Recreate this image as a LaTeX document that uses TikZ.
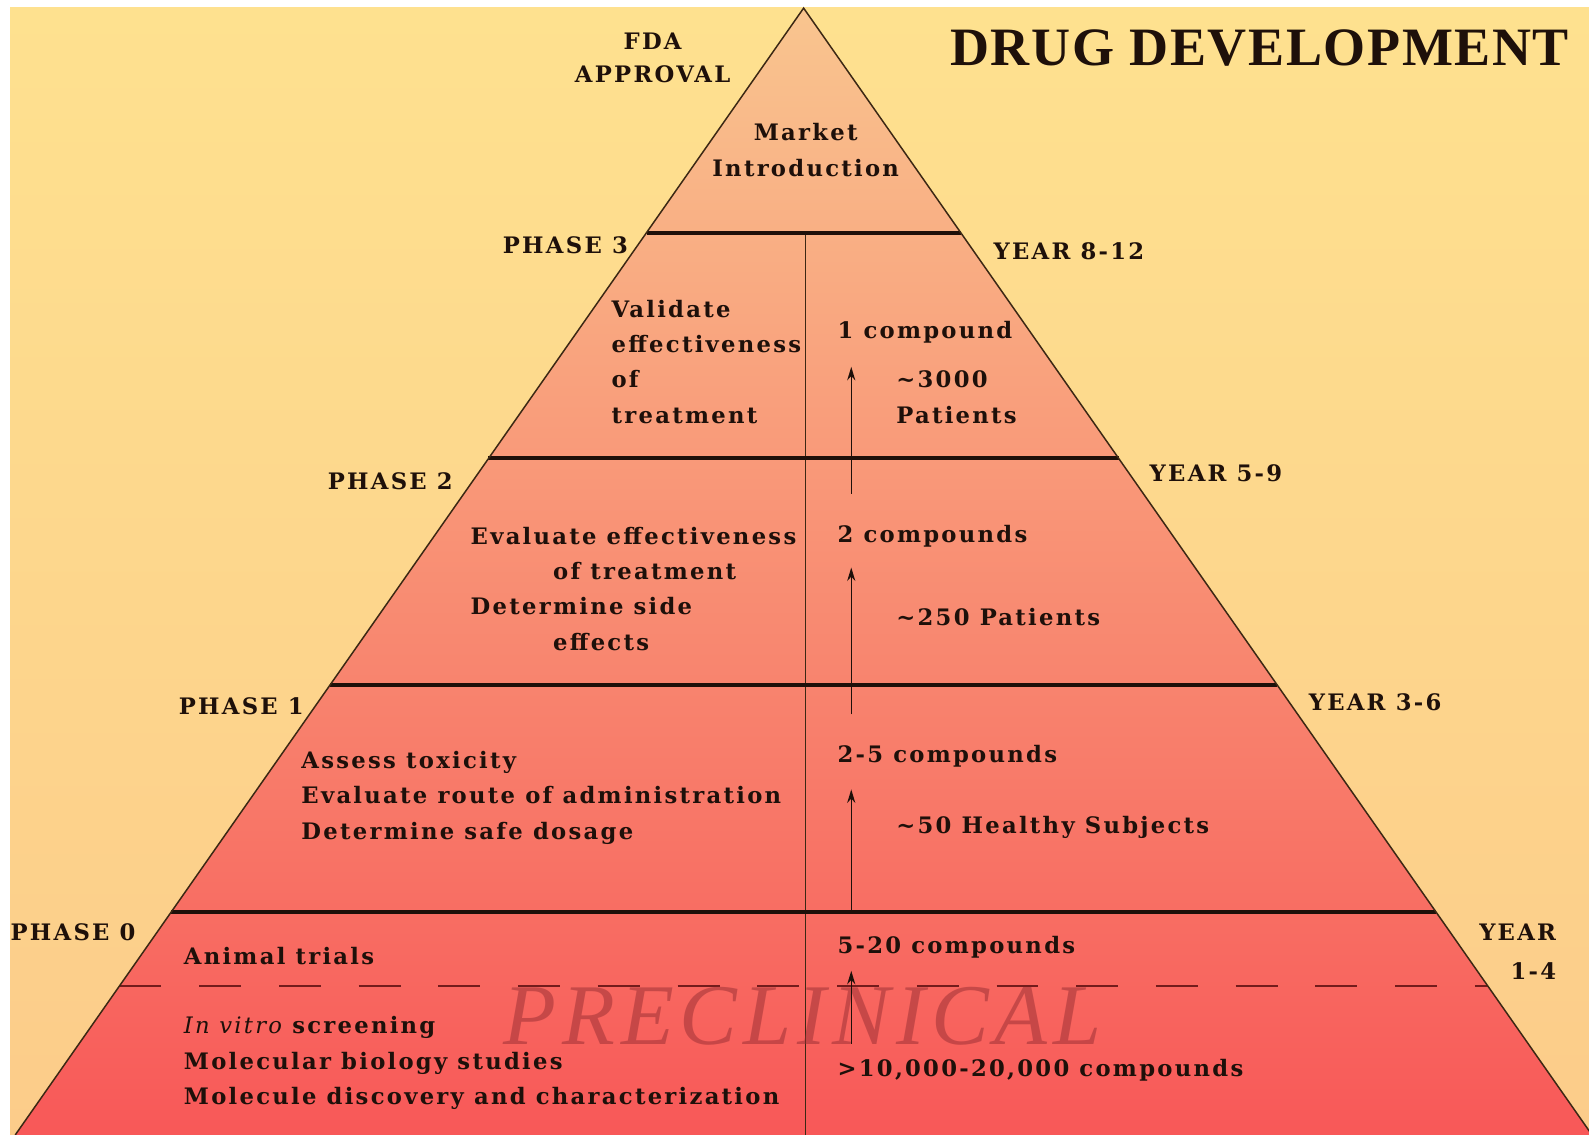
\documentclass[tikz,border=0pt]{standalone}
\usepackage{fontspec}
\setmainfont{DejaVu Serif}[LetterSpace=10]
\newfontfamily\titlefont{Liberation Serif}[LetterSpace=3]
\newfontfamily\ghostfont{Liberation Serif}[LetterSpace=7]
\usetikzlibrary{arrows.meta}

\definecolor{bgtop}{RGB}{254,225,143}
\definecolor{bgbot}{RGB}{252,204,138}
\definecolor{pyrtop}{RGB}{249,197,143}
\definecolor{pyrbot}{RGB}{248,88,88}
\definecolor{ink}{RGB}{30,16,10}
\definecolor{rimink}{RGB}{60,40,20}
\definecolor{dashred}{RGB}{115,28,28}
\definecolor{ghost}{RGB}{150,45,50}

\tikzset{every picture/.style={line width=0.75pt}}
\tikzset{
  lbl/.style={font=\bfseries\fontsize{16.8}{26.25}\selectfont, text=ink, inner sep=0pt, align=left},
  divider/.style={draw=ink, line width=2.6pt},
  rim/.style={draw=rimink, line width=1.1pt},
  flow/.style={draw=ink, line width=1.1pt, -{Stealth[length=10pt,width=6pt]}},
}

\begin{document}
\begin{tikzpicture}[x=0.75pt,y=0.75pt,yscale=-1,xscale=1]
\useasboundingbox (0,0) rectangle (1568,1120);

%Shape: Rectangle [background]
\fill[top color=bgtop, bottom color=bgbot] (10,7) rectangle (1568,1120);

\coordinate (apex) at (793,8);
\coordinate (bl) at (15,1120);
\coordinate (br) at (1571,1120);

%Shape: Triangle [pyramid]
\begin{scope}
\clip (0,0) rectangle (1568,1120);
\fill[top color=pyrtop, bottom color=pyrbot] (apex) -- (bl) -- (br) -- cycle;
\end{scope}

%Straight Lines [phase borders]
\coordinate (l3) at (638,230);
\coordinate (r3) at (948,230);
\coordinate (l2) at (482,452);
\coordinate (r2) at (1104,452);
\coordinate (l1) at (326,676);
\coordinate (r1) at (1260,676);
\coordinate (l0) at (169,900);
\coordinate (r0) at (1417,900);
\coordinate (dl) at (118,973);
\coordinate (dr) at (1468,973);
\coordinate (ctop) at (795,230);
\coordinate (cbot) at (795,1120);

\draw[draw=dashred, line width=1.1pt, dash pattern=on 31pt off 28pt] (dl) -- (dr);
\draw[rim] (ctop) -- (cbot);
\draw[divider] (l3) -- (r3);
\draw[divider] (l2) -- (r2);
\draw[divider] (l1) -- (r1);
\draw[divider] (l0) -- (r0);
\draw[rim] (bl) -- (apex) -- (br);

% Text Node
\draw (792,1031) node (preclin) [anchor=base, font=\ghostfont\itshape\fontsize{64}{64}\selectfont, text=ghost, text opacity=0.5, inner sep=0pt] {PRECLINICAL};

%Arrows
\coordinate (a0s) at (840,1030);
\coordinate (a0e) at (840,958);
\coordinate (a1s) at (840,900);
\coordinate (a1e) at (840,779);
\coordinate (a2s) at (840,705);
\coordinate (a2e) at (840,560);
\coordinate (a3s) at (840,487);
\coordinate (a3e) at (840,362);
\draw[flow] (a0s) -- (a0e);
\draw[flow] (a1s) -- (a1e);
\draw[flow] (a2s) -- (a2e);
\draw[flow] (a3s) -- (a3e);

% Text Node
\draw (1243,47) node (title) [font=\titlefont\bfseries\fontsize{40}{40}\selectfont, text=ink, inner sep=0pt] {DRUG DEVELOPMENT};
% Text Node
\draw (644,57) node (fda) [lbl, align=center, font=\bfseries\fontsize{16.8}{24.75}\selectfont] {FDA\\APPROVAL};
% Text Node
\draw (795,148) node (market) [lbl, align=center] {Market\\Introduction};
% Text Node
\draw (620,242) node (phase3) [lbl, anchor=east] {PHASE 3};
% Text Node
\draw (980,248) node (year812) [lbl, anchor=west] {YEAR 8-12};
% Text Node
\draw (603,357) node (validate) [lbl, anchor=west] {Validate\\effectiveness\\of\\treatment};
% Text Node
\draw (826,328) node (onecomp) [lbl, anchor=west] {1 compound};
% Text Node
\draw (884,392) node (pat3000) [lbl, anchor=west] {\textasciitilde 3000\\Patients};
% Text Node
\draw (323,475) node (phase2) [lbl, anchor=west] {PHASE 2};
% Text Node
\draw (1134,467) node (year59) [lbl, anchor=west] {YEAR 5-9};
% Text Node
\draw (464,581) node (evaluate) [lbl, anchor=west] {Evaluate effectiveness\\\hspace*{61pt}of treatment\\Determine side\\\hspace*{61pt}effects};
% Text Node
\draw (826,529) node (twocomp) [lbl, anchor=west] {2 compounds};
% Text Node
\draw (884,609) node (pat250) [lbl, anchor=west] {\textasciitilde 250 Patients};
% Text Node
\draw (176,697) node (phase1) [lbl, anchor=west] {PHASE 1};
% Text Node
\draw (1291,693) node (year36) [lbl, anchor=west] {YEAR 3-6};
% Text Node
\draw (297,787) node (assess) [lbl, anchor=west] {Assess toxicity\\Evaluate route of administration\\Determine safe dosage};
% Text Node
\draw (826,746) node (twofive) [lbl, anchor=west] {2-5 compounds};
% Text Node
\draw (884,816) node (healthy) [lbl, anchor=west] {\textasciitilde 50 Healthy Subjects};
% Text Node
\draw (10,920) node (phase0) [lbl, anchor=west] {PHASE 0};
% Text Node
\draw (1536,939) node (year14) [lbl, anchor=east, align=right, font=\bfseries\fontsize{16.8}{28.5}\selectfont] {YEAR\\1-4};
% Text Node
\draw (181,943) node (animal) [lbl, anchor=west] {Animal trials};
% Text Node
\draw (826,935) node (fivetwenty) [lbl, anchor=west] {5-20 compounds};
% Text Node
\draw (181,1049) node (invitro) [lbl, anchor=west] {{\mdseries\itshape In vitro} screening\\Molecular biology studies\\Molecule discovery and characterization};
% Text Node
\draw (826,1056) node (tenk) [lbl, anchor=west] {>10,000-20,000 compounds};

\end{tikzpicture}
\end{document}
